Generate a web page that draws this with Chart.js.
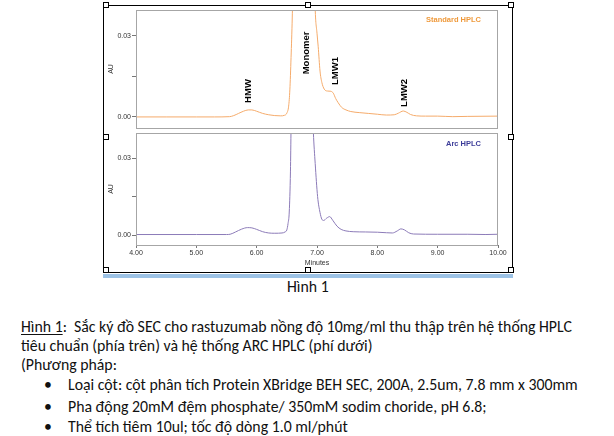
<!DOCTYPE html>
<html>
<head>
<meta charset="utf-8">
<script src="https://cdn.jsdelivr.net/npm/chart.js@4.4.1/dist/chart.umd.min.js"></script>
<style>
  html, body { margin: 0; padding: 0; background: #fff; }
  body { width: 614px; height: 436px; position: relative; overflow: hidden; }
  #frame { position: absolute; left: 103px; top: 5px; width: 408px; height: 266px; border: 1px solid #000; }
  #bar { position: absolute; left: 103px; top: 274px; width: 410px; height: 4px; background: #9dc3e6; }
  .handle { position: absolute; width: 4px; height: 4px; border: 1px solid #000; background: #fff; }
  canvas { position: absolute; }
  .cap { position: absolute; font-family: Carlito, Lato, sans-serif; font-size: 15.8px; line-height: 18px; color: #111; white-space: nowrap; }
  .cap u { text-decoration-thickness: 1px; text-underline-offset: 2px; }
</style>
</head>
<body>
<div id="frame"></div>
<div id="bar"></div>
<div class="handle" style="left:103px;top:2px"></div>
<div class="handle" style="left:305px;top:2px"></div>
<div class="handle" style="left:508px;top:2px"></div>
<div class="handle" style="left:103px;top:134px"></div>
<div class="handle" style="left:508px;top:134px"></div>
<div class="handle" style="left:103px;top:267px"></div>
<div class="handle" style="left:305px;top:267px"></div>
<div class="handle" style="left:508px;top:267px"></div>

<canvas id="stdChart" width="409" height="125" style="left:103px;top:5px"></canvas>
<canvas id="arcChart" width="409" height="142" style="left:103px;top:130px"></canvas>

<div class="cap" style="left:287px;top:278px">Hình 1</div>
<div class="cap" style="left:21px;top:318px"><u>Hình 1</u>:&nbsp; Sắc ký đồ SEC cho rastuzumab nồng độ 10mg/ml thu thập trên hệ thống HPLC</div>
<div class="cap" style="left:21px;top:337px">tiêu chuẩn (phía trên) và hệ thống ARC HPLC (phí dưới)</div>
<div class="cap" style="left:21px;top:356px">(Phương pháp:</div>
<div class="cap" style="left:44px;top:376px">•</div>
<div class="cap" style="left:68px;top:376px">Loại cột: cột phân tích Protein XBridge BEH SEC, 200A, 2.5um, 7.8 mm x 300mm</div>
<div class="cap" style="left:44px;top:398px">•</div>
<div class="cap" style="left:68px;top:398px">Pha động 20mM đệm phosphate/ 350mM sodim choride, pH 6.8;</div>
<div class="cap" style="left:44px;top:418px">•</div>
<div class="cap" style="left:68px;top:418px">Thể tích tiêm 10ul; tốc độ dòng 1.0 ml/phút</div>

<script>
// --- du lieu doc tu hinh (phut, AU) ---
const stdTime = [4.00, 4.50, 5.00, 5.30, 5.55, 5.62, 5.70, 5.78, 5.86, 5.92, 6.00, 6.10, 6.20, 6.30, 6.40, 6.46, 6.50, 6.53, 6.55, 6.57, 6.59, 6.61, 6.65, 6.78, 6.90, 6.94, 6.97, 7.00, 7.02, 7.05, 7.08, 7.12, 7.17, 7.23, 7.27, 7.31, 7.35, 7.41, 7.48, 7.56, 7.70, 7.85, 8.00, 8.15, 8.28, 8.35, 8.43, 8.49, 8.55, 8.65, 8.80, 9.00, 9.25, 9.50, 10.00];
const stdAU   = [0.0000, 0.0000, 0.0000, 0.0000, 0.0001, 0.0005, 0.0013, 0.0021, 0.0026, 0.0026, 0.0021, 0.0013, 0.0008, 0.0005, 0.0004, 0.0006, 0.0014, 0.0040, 0.0100, 0.0220, 0.0370, 0.0600, 0.1500, 0.3000, 0.1500, 0.0700, 0.0400, 0.0310, 0.0260, 0.0170, 0.0128, 0.0103, 0.0096, 0.0095, 0.0088, 0.0068, 0.0053, 0.0035, 0.0026, 0.0020, 0.0016, 0.0013, 0.0010, 0.0007, 0.0008, 0.0014, 0.0022, 0.0017, 0.0009, 0.0004, 0.0003, 0.0003, 0.0001, 0.0002, 0.0003];

const arcTime = [4.00, 5.00, 5.50, 5.56, 5.65, 5.75, 5.85, 5.92, 6.00, 6.10, 6.20, 6.30, 6.42, 6.47, 6.50, 6.52, 6.54, 6.56, 6.57, 6.60, 6.65, 6.75, 6.85, 6.91, 6.94, 6.97, 7.01, 7.05, 7.08, 7.11, 7.16, 7.21, 7.26, 7.33, 7.40, 7.48, 7.60, 7.80, 8.00, 8.15, 8.25, 8.33, 8.39, 8.45, 8.52, 8.60, 9.00, 9.50, 9.80, 10.00];
const arcAU   = [0.0002, 0.0002, 0.0002, 0.0003, 0.0012, 0.0023, 0.0029, 0.0028, 0.0022, 0.0013, 0.0008, 0.0007, 0.0008, 0.0012, 0.0020, 0.0045, 0.0090, 0.0250, 0.0420, 0.0800, 0.1800, 0.3000, 0.1500, 0.0600, 0.0400, 0.0280, 0.0150, 0.0088, 0.0062, 0.0057, 0.0066, 0.0072, 0.0058, 0.0035, 0.0022, 0.0016, 0.0013, 0.0012, 0.0011, 0.0009, 0.0008, 0.0016, 0.0024, 0.0020, 0.0009, 0.0004, 0.0003, 0.0003, 0.0002, 0.0003];

const peakNames = ['HMW', 'Monomer', 'LMW1', 'LMW2'];
const peakTimes = [5.87, 6.82, 7.30, 8.44];
const peakLabelAU = [0.0096, 0.0237, 0.0170, 0.0089];  // vi tri nhan (chieu cao)

const yTicks = [0, 0.015, 0.03];
const xTicks = [4, 5, 6, 7, 8, 9, 10];

const axisGray = '#a6a6a6';
const tickFont = { family: 'Liberation Sans, Arial, sans-serif', size: 7 };

function toPoints(t, v) {
    return t.map((x, i) => ({ x: x, y: v[i] }));
}

// khung xam quanh vung ve + nhan chu
const panelPlugin = {
    id: 'panel',
    afterDatasetsDraw(chart, args, opts) {
        const a = chart.chartArea;
        const ctx = chart.ctx;
        ctx.save();
        ctx.strokeStyle = axisGray;
        ctx.lineWidth = 1;
        ctx.strokeRect(a.left + 0.5, a.top + 0.5, a.right - a.left - 1, a.bottom - a.top);
        ctx.font = 'bold 7.5px "Liberation Sans", Arial, sans-serif';
        ctx.fillStyle = opts.titleColor;
        ctx.textAlign = 'right';
        ctx.textBaseline = 'middle';
        ctx.fillText(opts.title, a.right - 17, a.top + opts.titleDy);
        if (opts.peaks) {
            const xs = chart.scales.x, ys = chart.scales.y;
            ctx.fillStyle = '#000';
            ctx.font = 'bold 9.5px "Liberation Sans", Arial, sans-serif';
            ctx.textAlign = 'center';
            peakNames.forEach((name, i) => {
                ctx.save();
                ctx.translate(xs.getPixelForValue(peakTimes[i]), ys.getPixelForValue(peakLabelAU[i]));
                ctx.rotate(-Math.PI / 2);
                ctx.fillText(name, 0, 0);
                ctx.restore();
            });
        }
        ctx.restore();
    }
};

function makeChart(id, pts, color, showX, panelOpts, yMin, yMax, pad) {
    return new Chart(document.getElementById(id), {
        type: 'line',
        data: {
            datasets: [{
                data: pts,
                borderColor: color,
                borderWidth: 1,
                pointRadius: 0,
                cubicInterpolationMode: 'monotone',
                clip: 0
            }]
        },
        options: {
            responsive: false,
            animation: false,
            devicePixelRatio: 1,
            layout: { padding: pad },
            plugins: { legend: { display: false }, tooltip: { enabled: false }, panel: panelOpts },
            scales: {
                x: {
                    type: 'linear',
                    display: showX,
                    min: 4, max: 10,
                    border: { display: false },
                    grid: { drawOnChartArea: false, drawTicks: true, tickLength: 3, color: '#777' },
                    afterBuildTicks: s => { s.ticks = xTicks.map(v => ({ value: v })); },
                    afterFit: s => {
                        if (showX) s.height = 27;
                        s.paddingLeft = 0; s.paddingRight = 0;
                    },
                    ticks: { font: tickFont, color: '#333', padding: 1, maxRotation: 0, autoSkip: false,
                        callback: v => v.toFixed(2) },
                    title: { display: true, text: 'Minutes', font: tickFont, color: '#333', padding: { top: 0, bottom: 5 } }
                },
                y: {
                    min: yMin, max: yMax,
                    border: { display: false },
                    grid: { drawOnChartArea: false, drawTicks: true, tickLength: 4, color: '#777' },
                    afterBuildTicks: s => { s.ticks = yTicks.map(v => ({ value: v })); },
                    afterFit: s => { s.width = 33; s.paddingTop = 0; s.paddingBottom = 0; },
                    ticks: { font: tickFont, color: '#333', padding: 1,
                        callback: v => (v === 0.015 ? '' : v.toFixed(2)) },
                    title: { display: true, text: 'AU', font: tickFont, color: '#333', padding: { top: 4, bottom: 0 } }
                }
            }
        },
        plugins: [panelPlugin]
    });
}

makeChart('stdChart', toPoints(stdTime, stdAU), '#f5ab6b', false,
    { title: 'Standard HPLC', titleColor: '#ef9a3c', titleDy: 10, peaks: true },
    -0.0041, 0.0396, { top: 5, right: 14, bottom: 2, left: 0 });

makeChart('arcChart', toPoints(arcTime, arcAU), '#8c7bb8', true,
    { title: 'Arc HPLC', titleColor: '#3d3d99', titleDy: 11, peaks: false },
    -0.0039, 0.0399, { top: 3, right: 14, bottom: 0, left: 0 });
</script>
</body>
</html>
